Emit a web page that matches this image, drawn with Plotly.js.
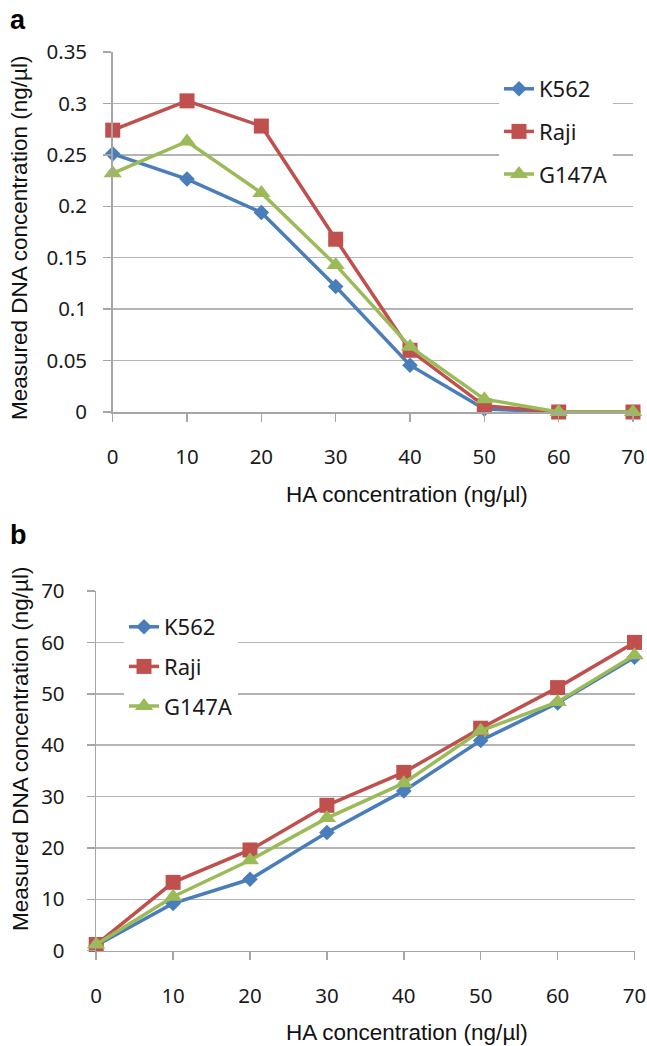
<!DOCTYPE html>
<html>
<head>
<meta charset="utf-8">
<script src="https://cdn.plot.ly/plotly-3.0.1.min.js"></script>
<style>html,body{margin:0;padding:0;background:#fff;}#chart{width:647px;height:1046px;}</style>
</head>
<body>
<div id="chart"></div>
<script>
// Categories (HA concentration, ng/µl)
const haConc = [0, 10, 20, 30, 40, 50, 60, 70];
const seriesNames = ["K562", "Raji", "G147A"];

// Panel a values (measured DNA, ng/µl)
const aK562  = [0.251, 0.2265, 0.194, 0.122, 0.0455, 0.003, 0, 0];
const aRaji  = [0.274, 0.3025, 0.278, 0.168, 0.060, 0.006, 0, 0];
const aG147A = [0.232, 0.263, 0.213, 0.143, 0.0635, 0.0125, 0, 0];

// Panel b values (measured DNA, ng/µl)
const bK562  = [1.0, 9.2, 13.9, 23.0, 31.1, 40.9, 48.2, 57.1];
const bRaji  = [1.2, 13.3, 19.6, 28.3, 34.7, 43.3, 51.2, 60.0];
const bG147A = [1.2, 10.5, 17.6, 25.8, 32.6, 42.8, 48.4, 57.5];

// Tick labels
const aYTicks = [0, 0.05, 0.1, 0.15, 0.2, 0.25, 0.3, 0.35];
const aYTickText = ["0", "0.05", "0.1", "0.15", "0.2", "0.25", "0.3", "0.35"];
const bYTicks = [0, 10, 20, 30, 40, 50, 60, 70];

const colors = ["#4a7ebb", "#c0504d", "#9bbb59"];
const symbols = ["diamond", "square", "triangle-up"];
const msizes = [12, 15, 16];

function mk(y, i, xa, ya, leg) {
  return {
    x: haConc, y: y, name: seriesNames[i], type: "scatter", mode: "lines+markers",
    xaxis: xa, yaxis: ya, legend: leg, legendgroup: leg + i, cliponaxis: false,
    line: {color: colors[i], width: 3.5},
    marker: {color: colors[i], symbol: symbols[i], size: msizes[i], line: {width: 0}}
  };
}

const data = [
  mk(aK562, 0, "x", "y", "legend"),
  mk(aRaji, 1, "x", "y", "legend"),
  mk(aG147A, 2, "x", "y", "legend"),
  mk(bK562, 0, "x2", "y2", "legend2"),
  mk(bRaji, 1, "x2", "y2", "legend2"),
  mk(bG147A, 2, "x2", "y2", "legend2")
];

const tickFont = {family: "Noto Sans, sans-serif", size: 20.5, color: "#1a1a1a"};
const titleFont = {family: "Liberation Sans, Arial, sans-serif", size: 22.5, color: "#111"};
const gridC = "#b4b4b4", axisC = "#a6a6a6";

function xax(domain, anchor) {
  return {
    domain: domain, anchor: anchor, range: [-0.0001, 70.0001], tickvals: haConc, ticktext: haConc.map(String),
    showgrid: false, showline: true, linecolor: axisC, linewidth: 1.5, zeroline: false,
    ticks: "outside", ticklen: 8, tickcolor: axisC, tickwidth: 1.5,
    tickfont: tickFont, ticklabelstandoff: 18, fixedrange: true
  };
}
function yax(domain, anchor, range, tv, tt, standoff) {
  return {
    domain: domain, anchor: anchor, range: range, tickvals: tv, ticktext: tt,
    showgrid: true, gridcolor: gridC, gridwidth: 1.5, showline: true, linecolor: axisC, linewidth: 1.5,
    zeroline: false, ticks: "outside", ticklen: 8, tickcolor: axisC, tickwidth: 1.5,
    tickfont: tickFont, ticklabelstandoff: standoff, fixedrange: true
  };
}

const W = 647, H = 1046;
const layout = {
  width: W, height: H, margin: {l: 0, r: 0, t: 0, b: 0},
  paper_bgcolor: "#fff", plot_bgcolor: "#fff", showlegend: true,
  xaxis: xax([112.7 / W, 633 / W], "y"),
  yaxis: yax([1 - 412 / H, 1 - 52 / H], "x", [0, 0.35], aYTicks, aYTickText, 12),
  xaxis2: xax([96.2 / W, 634.5 / W], "y2"),
  yaxis2: yax([1 - 950.7 / H, 1 - 591 / H], "x2", [0, 70], bYTicks, bYTicks.map(String), 18),
  legend: {
    x: 499 / W, y: 1 - 68 / H, xanchor: "left", yanchor: "top", bgcolor: "#fff",
    font: {family: "Noto Sans, sans-serif", size: 22, color: "#1a1a1a"},
    traceorder: "grouped", tracegroupgap: 11, itemclick: false, itemdoubleclick: false
  },
  legend2: {
    x: 124 / W, y: 1 - 606 / H, xanchor: "left", yanchor: "top", bgcolor: "#fff",
    font: {family: "Noto Sans, sans-serif", size: 22, color: "#1a1a1a"},
    traceorder: "grouped", tracegroupgap: 8, itemclick: false, itemdoubleclick: false
  },
  annotations: [
    {text: "<b>a</b>", x: 8 / W, y: 1 - 20 / H, xref: "paper", yref: "paper", xanchor: "left", yanchor: "middle",
     showarrow: false, font: {family: "Liberation Sans, Arial, sans-serif", size: 27, color: "#000"}},
    {text: "<b>b</b>", x: 8 / W, y: 1 - 535 / H, xref: "paper", yref: "paper", xanchor: "left", yanchor: "middle",
     showarrow: false, font: {family: "Liberation Sans, Arial, sans-serif", size: 27, color: "#000"}},
    {text: "HA concentration (ng/µl)", x: 407 / W, y: 1 - 494 / H, xref: "paper", yref: "paper",
     xanchor: "center", yanchor: "middle", showarrow: false, font: titleFont},
    {text: "HA concentration (ng/µl)", x: 407 / W, y: 1 - 1032 / H, xref: "paper", yref: "paper",
     xanchor: "center", yanchor: "middle", showarrow: false, font: titleFont},
    {text: "Measured DNA concentration (ng/µl)", x: 20 / W, y: 1 - 238 / H, xref: "paper", yref: "paper",
     xanchor: "center", yanchor: "middle", textangle: -90, showarrow: false, font: titleFont},
    {text: "Measured DNA concentration (ng/µl)", x: 20 / W, y: 1 - 749 / H, xref: "paper", yref: "paper",
     xanchor: "center", yanchor: "middle", textangle: -90, showarrow: false, font: titleFont}
  ]
};

Plotly.newPlot("chart", data, layout, {displayModeBar: false, staticPlot: true});
</script>
</body>
</html>
